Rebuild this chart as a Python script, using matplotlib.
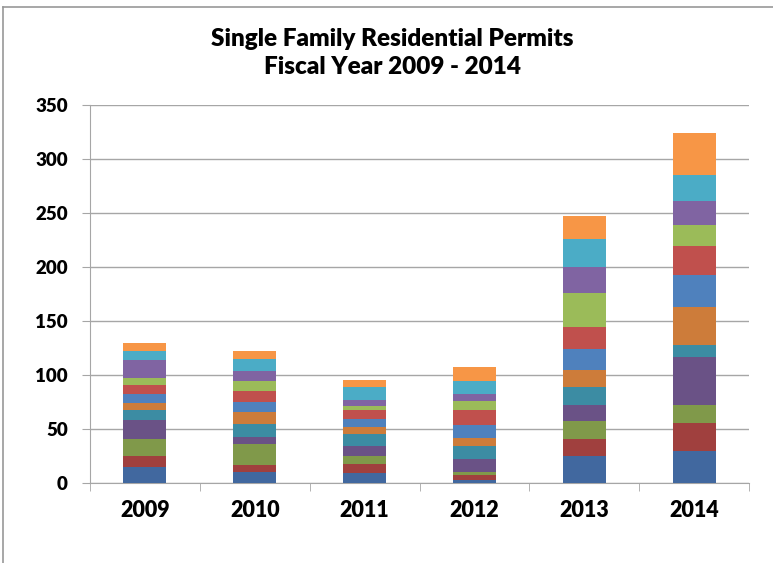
import numpy as np
import matplotlib.pyplot as plt
from matplotlib.lines import Line2D

# fiscal years and monthly permit counts (bottom segment first)
years = ['2009', '2010', '2011', '2012', '2013', '2014']
m01 = [15, 10, 9, 3, 25, 30]
m02 = [10, 7, 9, 4, 16, 26]
m03 = [16, 19, 7, 3, 16, 16]
m04 = [17, 7, 9, 12, 15, 45]
m05 = [10, 12, 11, 12, 17, 11]
m06 = [6, 11, 7, 8, 16, 35]
m07 = [8, 9, 7, 12, 19, 30]
m08 = [9, 10, 9, 14, 20, 26]
m09 = [6, 9, 3, 8, 32, 20]
m10 = [17, 10, 6, 6, 24, 22]
m11 = [8, 11, 12, 12, 26, 24]
m12 = [8, 7, 6, 13, 21, 39]
months = [m01, m02, m03, m04, m05, m06, m07, m08, m09, m10, m11, m12]

colors = ['#41689F', '#A0403E', '#80994A', '#6A5286', '#3C8CA3', '#CD7C3A',
          '#4F81BD', '#C0504D', '#9BBB59', '#8064A2', '#4BACC6', '#F79646']

fig = plt.figure(figsize=(7.73, 5.63), dpi=100)
ax = fig.add_axes([90 / 773, 1 - 483 / 563, (749 - 90) / 773, (483 - 105) / 563])

x = np.arange(len(years))
bottom = np.zeros(len(years))
for vals, c in zip(months, colors):
    ax.bar(x, vals, width=0.39, bottom=bottom, color=c, edgecolor='none', zorder=3)
    bottom += np.array(vals)

ax.set_xlim(-0.5, 5.5)
ax.set_ylim(0, 350)
ax.set_yticks(range(0, 351, 50))
ax.set_xticks(x)
ax.set_xticklabels(years)
ax.set_xticks(np.arange(-0.5, 6, 1), minor=True)

font = 'Lato'
for lab in ax.get_yticklabels():
    lab.set_fontfamily(font)
    lab.set_fontweight('heavy')
    lab.set_fontsize(13.5)
for lab in ax.get_xticklabels():
    lab.set_fontfamily(font)
    lab.set_fontweight('heavy')
    lab.set_fontsize(15.5)

ax.grid(axis='y', color='#A6A6A6', linewidth=1, zorder=0)
ax.tick_params(axis='y', direction='out', length=6, color='#A6A6A6', pad=10)
ax.tick_params(axis='x', which='major', length=0, pad=12)
ax.tick_params(axis='x', which='minor', direction='out', length=6, color='#A6A6A6')
for s in ['top', 'right']:
    ax.spines[s].set_visible(False)
ax.spines['left'].set_color('#A6A6A6')
ax.spines['bottom'].set_color('#A6A6A6')

fig.text(392 / 773, 1 - 53 / 563, 'Single Family Residential Permits\nFiscal Year 2009 - 2014',
         ha='center', va='center', fontsize=17.5, fontweight='heavy', fontfamily=font,
         linespacing=1.3)

# chart frame (left and top edges visible)
fig.add_artist(Line2D([3.5 / 773, 3.5 / 773], [0, 1 - 6.5 / 563], transform=fig.transFigure,
                      color='#989898', linewidth=1.2))
fig.add_artist(Line2D([3.5 / 773, 1], [1 - 6.5 / 563, 1 - 6.5 / 563], transform=fig.transFigure,
                      color='#989898', linewidth=1.2))

fig.savefig('out.png', dpi=100)
